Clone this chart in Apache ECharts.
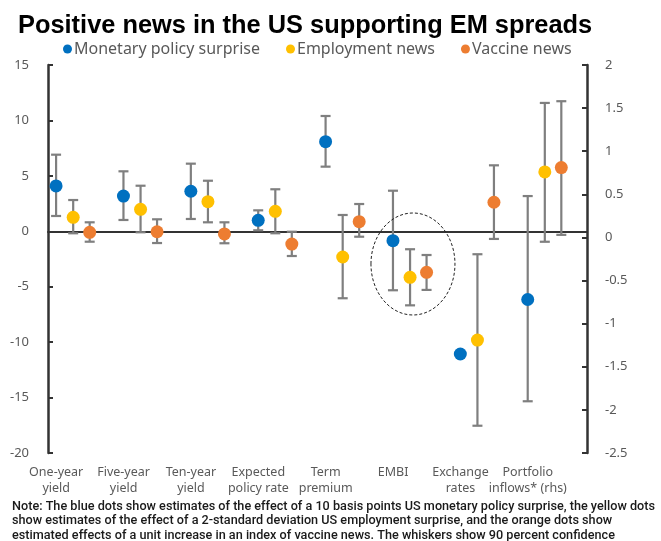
<!DOCTYPE html>
<html>
<head>
<meta charset="utf-8">
<script src="https://cdn.jsdelivr.net/npm/echarts@6/dist/echarts.min.js"></script>
<style>
html, body { margin: 0; padding: 0; background: #fff; }
#chart { width: 661px; height: 541px; }
</style>
</head>
<body>
<div id="chart"></div>
<script>
// categories (last one is read on the right-hand axis)
const categories = ['One-year\nyield', 'Five-year\nyield', 'Ten-year\nyield', 'Expected\npolicy rate',
    'Term\npremium', 'EMBI', 'Exchange\nrates', 'Portfolio\ninflows* (rhs)'];
const rhsIndex = 7;

// monetary policy surprise (blue)
const monetaryValue = [4.09, 3.18, 3.61, 0.99, 8.08, -0.85, -11.07, -0.72];
const monetaryLow = [1.38, 1.02, 1.11, 0.09, 5.83, -5.32, null, -1.9];
const monetaryHigh = [6.91, 5.41, 6.10, 1.89, 10.40, 3.66, null, 0.48];

// employment news (yellow)
const employmentValue = [1.26, 1.98, 2.67, 1.80, -2.32, -4.15, -9.81, 0.76];
const employmentLow = [-0.18, -0.09, 0.81, -0.18, -6.04, -6.68, -17.54, -0.05];
const employmentHigh = [2.82, 4.11, 4.56, 3.79, 1.47, -1.62, -2.07, 1.56];

// vaccine news (orange)
const vaccineValue = [-0.09, -0.04, -0.24, -1.15, 0.87, -3.70, 2.62, 0.81];
const vaccineLow = [-0.94, -1.06, -1.08, -2.23, -0.49, -5.29, -0.69, 0.03];
const vaccineHigh = [0.81, 1.08, 0.81, -0.04, 2.46, -2.14, 5.95, 1.58];

// axis scales
const leftMin = -20, leftMax = 15, leftStep = 5;
const rightMin = -2.5, rightMax = 2, rightStep = 0.5;

const noteLines = [
    'Note: The blue dots show estimates of the effect of a 10 basis points US monetary policy surprise, the yellow dots',
    'show estimates of the effect of a 2-standard deviation US employment surprise, and the orange dots show',
    'estimated effects of a unit increase in an index of vaccine news. The whiskers show 90 percent confidence'
];

const groups = [
    { name: 'Monetary policy surprise', color: '#0070C0', value: monetaryValue, low: monetaryLow, high: monetaryHigh, offset: -25.6 },
    { name: 'Employment news', color: '#FFC000', value: employmentValue, low: employmentLow, high: employmentHigh, offset: -8.5 },
    { name: 'Vaccine news', color: '#ED7D31', value: vaccineValue, low: vaccineLow, high: vaccineHigh, offset: 8 }
];

const axisColor = '#333';
const labelColor = '#595959';
const whiskerColor = '#7f7f7f';

function whiskerRenderer(offset) {
    return function (params, api) {
        const top = api.coord([api.value(0), api.value(2)]);
        const bottom = api.coord([api.value(0), api.value(1)]);
        const x = top[0] + offset;
        const style = { stroke: whiskerColor, lineWidth: 2.2 };
        return {
            type: 'group',
            children: [
                { type: 'line', shape: { x1: x, y1: top[1], x2: x, y2: bottom[1] }, style: style },
                { type: 'line', shape: { x1: x - 5, y1: top[1], x2: x + 5, y2: top[1] }, style: style },
                { type: 'line', shape: { x1: x - 5, y1: bottom[1], x2: x + 5, y2: bottom[1] }, style: style }
            ]
        };
    };
}

const series = [];
groups.forEach(function (g) {
    [0, 1].forEach(function (axis) {
        const idx = categories.map((c, i) => i).filter(i => (i === rhsIndex) === (axis === 1));
        series.push({
            type: 'custom',
            yAxisIndex: axis,
            z: 2,
            silent: true,
            renderItem: whiskerRenderer(g.offset),
            encode: { x: 0, y: [1, 2] },
            data: idx.filter(i => g.low[i] != null).map(i => [i, g.low[i], g.high[i]])
        });
        series.push({
            name: g.name,
            type: 'scatter',
            yAxisIndex: axis,
            z: 3,
            symbolSize: 13,
            symbolOffset: [g.offset, 0],
            itemStyle: { color: g.color, opacity: 1 },
            data: idx.map(i => [i, g.value[i]])
        });
    });
});

// dashed ring around the EMBI group
series.push({
    type: 'custom',
    z: 4,
    silent: true,
    renderItem: function (params, api) {
        const c = api.coord([api.value(0), api.value(1)]);
        return {
            type: 'ellipse',
            shape: { cx: c[0] - 5.6, cy: c[1], rx: 42, ry: 51 },
            style: { fill: 'none', stroke: '#222', lineWidth: 1, lineDash: [3, 2] }
        };
    },
    data: [[5, -2.95]]
});

const noteFont = '500 13px Roboto';
const ctx = document.createElement('canvas').getContext('2d');
ctx.font = noteFont;
const noteScale = 643 / ctx.measureText(noteLines[0]).width;

var chart = echarts.init(document.getElementById('chart'));
chart.setOption({
    backgroundColor: '#fff',
    animation: false,
    title: {
        text: 'Positive news in the US supporting EM spreads',
        left: 13,
        top: 8,
        textStyle: { fontFamily: 'Liberation Sans', fontWeight: 'bold', fontSize: 25.4, color: '#000' }
    },
    legend: {
        data: groups.map(g => g.name),
        left: 58,
        top: 36,
        icon: 'circle',
        itemWidth: 9,
        itemHeight: 9,
        itemGap: 26,
        textStyle: { color: labelColor, fontSize: 16, fontFamily: 'Noto Sans', padding: [0, 0, 0, -3] }
    },
    grid: { left: 48, right: 74, top: 65, bottom: 88 },
    xAxis: [
        {
            type: 'category',
            data: categories,
            axisLine: { onZero: true, onZeroAxisIndex: 0, lineStyle: { color: axisColor, width: 2 } },
            axisTick: { show: false },
            axisLabel: { show: false }
        },
        {
            type: 'category',
            data: categories,
            position: 'bottom',
            axisLine: { show: false, onZero: false },
            axisTick: { show: false },
            axisLabel: {
                color: labelColor, fontSize: 12.5, fontFamily: 'Noto Sans', lineHeight: 16,
                margin: 11, interval: 0, padding: [0, 51, 0, 0]
            }
        }
    ],
    yAxis: [
        {
            type: 'value', min: leftMin, max: leftMax, interval: leftStep,
            axisLine: { show: true, lineStyle: { color: axisColor, width: 2.5 } },
            axisTick: { show: true, inside: true, length: 5, lineStyle: { color: axisColor, width: 2 } },
            axisLabel: { color: labelColor, fontSize: 13, fontFamily: 'Noto Sans', margin: 19 },
            splitLine: { show: false }
        },
        {
            type: 'value', min: rightMin, max: rightMax, interval: rightStep, position: 'right',
            axisLine: { show: true, lineStyle: { color: axisColor, width: 2.5 } },
            axisTick: { show: true, inside: true, length: 5, lineStyle: { color: axisColor, width: 2 } },
            axisLabel: { color: labelColor, fontSize: 13, fontFamily: 'Noto Sans', margin: 18 },
            splitLine: { show: false }
        }
    ],
    graphic: noteLines.map(function (t, k) {
        return {
            type: 'text',
            x: 12,
            y: 507 + k * 14.2,
            scaleX: noteScale,
            style: { text: t, font: noteFont, fill: '#1a1a1a', verticalAlign: 'middle' }
        };
    }),
    series: series
});
</script>
</body>
</html>
